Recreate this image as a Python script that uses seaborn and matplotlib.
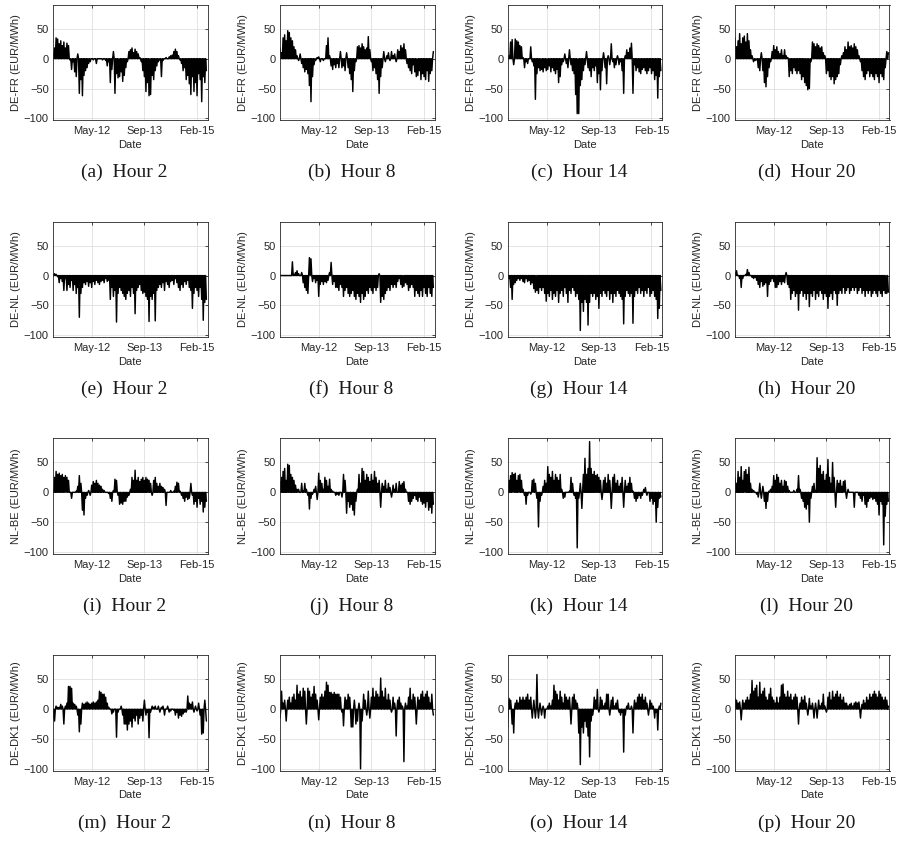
import numpy as np
import pandas as pd
import matplotlib
matplotlib.use("Agg")
import matplotlib.pyplot as plt
import matplotlib.dates as mdates
import seaborn as sns

sns.set_theme(style="whitegrid")
plt.rcParams["font.family"] = ["Liberation Sans", "DejaVu Sans"]

# Sampling dates of the price-spread series (one sample about every 15 days)
dates = pd.date_range("2011-04-22", "2015-05-04", periods=100)
x_start = pd.Timestamp("2011-04-22")
x_end = pd.Timestamp("2015-05-15")
tick_dates = pd.to_datetime(["2012-05-01", "2013-09-16", "2015-02-02"])
y_ticks = [-100, -50, 0, 50]

pairs = ["DE-FR", "DE-NL", "NL-BE", "DE-DK1"]
hours = ["Hour 2", "Hour 8", "Hour 14", "Hour 20"]
letters = list("abcdefghijklmnop")

# Price differences (EUR/MWh)
de_fr_h2 = [8, 18, 35, 33, 25, 30, 22, 28, 18, 26,
            22, -2, -18, -5, -22, -30, 8, -58, -35, -62,
            -28, -20, -15, -8, -5, 0, -2, 0, -8, 0,
            0, 0, -2, 0, -3, -12, -5, -40, -18, 12,
            -58, -25, -32, -30, -22, -38, -28, -15, -5, 12,
            15, 18, 10, 16, 12, 8, 2, -5, -20, -30,
            -55, -40, -62, -60, -28, -35, -20, -12, -5, -2,
            -30, -3, 0, 2, 0, 3, 5, 6, 12, 16,
            12, 5, -2, -8, -20, -15, -35, -28, -42, -60,
            -30, -55, -40, -62, -25, -35, -72, -30, -40, -20]
de_fr_h8 = [18, 10, 35, 40, 30, 47, 44, 35, 30, 20,
            15, 5, -3, 8, -8, -15, -22, -18, -25, -45,
            -72, -30, -10, -3, 2, 3, -5, 0, -3, 0,
            22, 35, 5, -12, -18, -10, -15, -8, -15, 12,
            -15, -12, -20, 10, -15, -25, -35, -55, -20, -5,
            20, 22, 18, 25, 20, 15, 18, 37, 15, -5,
            -20, -15, -25, -35, -58, -30, -15, 12, -5, 5,
            10, -3, 12, 5, 8, -5, 15, 12, 22, 18,
            25, 15, -8, -15, -20, -25, -10, -22, -30, -28,
            -20, -35, -25, -30, -35, -20, -38, -25, -20, 12]
de_fr_h14 = [0, 5, 28, 32, -10, 33, 30, 28, 22, 20,
             2, -15, -5, -8, 0, 20, -5, -12, -68, -25,
             -15, -20, -18, -22, -15, -20, -18, -12, -22, -15,
             -20, -25, -18, -40, -30, -10, -5, 8, -8, -15,
             15, -10, -20, -25, -60, -92, -92, -45, -35, -20,
             -10, 12, -15, -20, -30, -15, -20, -12, -40, -25,
             -52, -20, 10, -15, -42, 5, -10, 25, -5, -15,
             -10, 5, -10, -5, -20, -58, 5, 15, 10, 18,
             26, -58, -10, -20, -15, -22, -25, -18, -15, -20,
             -25, -20, -15, -25, -20, -35, -28, -66, -30, -20]
de_fr_h20 = [35, 20, 30, 42, 25, 35, 38, 28, 42, 30,
             15, 5, -5, -3, -2, -15, -20, 10, -20, -40,
             -47, -30, -15, -5, 12, 22, 15, 20, 12, 8,
             15, 5, 15, 5, 2, -30, -20, -25, -15, -20,
             -25, -20, -25, -35, -30, -40, -45, -52, -50, -5,
             28, 25, 20, 25, 22, 18, 20, 10, 5, -25,
             -20, -30, -35, -30, -42, -35, -30, -25, -10, 5,
             10, 20, 15, 28, 20, 22, 18, 25, 20, 15,
             5, -5, -20, -30, -35, -25, -20, -30, -25, -30,
             -35, -25, -30, -40, -25, -30, -35, -15, 12, 10]

de_nl_h2 = [0, 3, 2, -2, -12, -5, -10, -25, -5, -25,
            -15, -20, -8, -25, -15, -30, -20, -70, -30, -20,
            -12, -15, -10, -18, -12, -20, -10, -15, -8, -12,
            -15, -10, -8, -12, -5, -10, -8, -40, -20, -35,
            -25, -78, -30, -20, -25, -30, -35, -40, -30, -25,
            -35, -20, -30, -64, -25, -20, -15, -25, -30, -28,
            -35, -40, -77, -35, -40, -30, -76, -25, -20, -15,
            -20, -12, -25, -10, -15, -20, -10, -8, -15, -5,
            -12, -20, -25, -15, -20, -10, -15, -8, -20, -25,
            -55, -30, -20, -25, -35, -20, -40, -75, -45, -40]
de_nl_h8 = [0, 0, 0, 0, 0, 0, 0, 0, 23, 2,
            5, 8, 3, 0, 5, -12, -20, -25, -30, 30,
            28, -10, -5, -12, -8, -35, -15, -10, -15, -10,
            -12, -8, 5, 22, -15, -10, -20, -20, -25, -15,
            -20, -35, -25, -20, -30, -35, -30, -25, -35, -40,
            -30, -35, -45, -30, -40, -35, -25, -30, -20, -25,
            -30, -20, -25, -20, 3, -45, -35, -40, -30, -25,
            -20, -25, -15, -20, -15, -20, -10, -5, -15, -20,
            -18, -12, -15, -25, -20, -15, -20, -35, -25, -30,
            -35, -25, -35, -20, -30, -35, -20, -30, -35, -20]
de_nl_h14 = [0, -5, -20, -40, -15, -12, -8, -5, -8, -5,
             -10, -12, -5, -10, -8, -15, -12, -22, -28, -25,
             -30, -20, -25, -20, -30, -43, -30, -35, -25, -40,
             -30, -35, -25, -45, -30, -25, -35, -20, -30, -45,
             -25, -30, -20, -25, -35, -30, -40, -92, -45, -60,
             -40, -45, -83, -45, -30, -35, -30, -40, -35, -55,
             -30, -35, -25, -30, -35, -25, -40, -30, -45, -30,
             -35, -25, -30, -35, -40, -81, -35, -25, -30, -35,
             -30, -80, -35, -25, -30, -20, -30, -25, -35, -25,
             -30, -20, -35, -30, -25, -35, -40, -72, -55, -25]
de_nl_h20 = [5, 8, 0, -5, -20, -5, 0, 2, 10, 5,
             0, -3, -5, -3, -8, -15, -20, -10, -18, -15,
             -12, -35, -15, -10, -5, -10, -20, -20, -15, -10,
             -15, -10, -12, 5, -15, -20, -40, -30, -25, -35,
             -30, -58, -30, -25, -35, -30, -40, -30, -52, -30,
             -35, -25, -40, -30, -35, -25, -30, -40, -30, -35,
             -55, -35, -30, -40, -25, -30, -50, -30, -25, -30,
             -20, -30, -25, -20, -30, -25, -20, -25, -20, -30,
             -25, -20, -30, -25, -35, -25, -30, -25, -35, -30,
             -25, -30, -35, -25, -30, -35, -25, -30, -30, -28]

nl_be_h2 = [5, 25, 35, 30, 32, 28, 30, 25, 28, 25,
            20, 0, -10, 0, 0, 2, 10, 28, 15, -30,
            -38, -10, -5, 3, -5, 12, 18, 15, 20, 15,
            12, 10, 5, 3, 0, 0, -2, -10, -15, 3,
            22, 20, -5, -20, -18, -20, -15, -15, -8, -5,
            5, 25, 20, 37, 20, 25, 18, 22, 25, 20,
            25, 22, 20, 15, -5, 20, 25, 15, 10, 15,
            10, 8, 5, -22, 0, 0, 3, 0, 2, 10,
            17, 15, 2, -5, -10, -15, -8, -12, -10, 15,
            -5, -20, -15, -25, -10, -20, -15, -33, -25, -15]
nl_be_h8 = [18, 25, 35, 40, 20, 47, 45, 30, 25, 20,
            12, 5, 5, 0, 15, 2, 15, 5, -5, -28,
            -10, -3, 5, 10, -12, 32, 20, 15, 5, 25,
            20, 10, 22, 5, 2, 0, -5, -3, -5, 0,
            -8, 30, 20, -35, -15, -25, -20, -30, -38, -15,
            5, 30, 15, 40, 35, 20, 30, 25, 18, 30,
            20, 35, 25, 15, 20, -25, 15, 10, 20, 5,
            15, 8, -8, 12, 5, 15, 0, 18, 12, 15,
            18, 5, 0, -15, -20, -15, -10, -5, -12, -15,
            -8, -15, -20, -18, -25, -15, -30, -25, -35, -20]
nl_be_h14 = [2, 20, 28, 33, 30, 32, 20, 28, 30, 20,
             5, -5, -20, -5, 0, -3, 20, 22, 15, -10,
             -58, -15, -5, 10, 20, 15, 43, 30, 25, 35,
             20, 30, 25, 20, 30, 5, -10, -8, 0, 0,
             2, 25, 15, -5, -10, -93, -10, 15, -27, 30,
             57, 30, 40, 85, 40, 30, 35, 28, 30, 25,
             20, -12, 20, 25, 15, 30, 20, -27, 25, 30,
             15, 20, 10, 15, 25, -25, 20, 10, 15, 25,
             15, 2, -10, -15, -10, -5, -10, -5, 5, 8,
             -5, 0, -15, -10, -20, -15, -50, -25, -10, -8]
nl_be_h20 = [25, 15, 35, 25, 43, 20, 35, 38, 30, 42,
             15, 5, 3, 0, -3, -8, 15, -10, 10, -15,
             -27, -15, 2, 5, 10, 28, 20, 30, 25, 15,
             20, 10, 20, 18, 10, 3, 0, 0, 3, 0,
             5, 28, 5, -10, -15, -25, -28, -20, -50, -10,
             10, 15, 3, 58, 40, 45, 30, 35, 20, 30,
             55, 25, 15, 50, 25, -25, 20, 15, 20, 10,
             18, 20, -10, 5, 0, 0, 0, -25, 0, 0,
             -5, -10, -15, -5, -20, -25, -15, -10, -8, -12,
             -10, -15, -20, -38, -15, -20, -88, -40, -20, -15]

de_dk1_h2 = [-15, -20, 5, 3, 3, 8, 5, -25, 5, 10,
             38, 38, 35, 10, 8, 5, -10, -38, -25, 10,
             8, 10, 12, 10, 8, 10, 12, 10, 12, 15,
             30, 28, 25, 25, 20, 10, 3, 0, -8, -5,
             0, -47, -5, 0, 5, -10, -25, -25, -35, -25,
             -20, -30, -15, -20, -10, -25, -15, -10, -20, 15,
             -10, -5, -48, -5, 5, 3, 5, 0, 5, -5,
             3, 5, -10, 0, 5, -5, -3, 0, -2, -10,
             -5, -15, -10, -12, -8, -5, -5, 22, 10, 8,
             12, -5, 5, -3, 10, -10, -42, -40, 15, -20]
de_dk1_h8 = [-15, 30, 10, 15, -20, 15, 20, 10, 20, 25,
             15, 40, 25, 30, 20, 35, 30, -25, 35, 30,
             20, 25, 38, 25, 15, -18, 20, 25, 20, 30,
             45, 40, 28, 28, 25, 28, 25, 25, 25, 20,
             -5, -28, 20, 15, 25, 20, -30, -30, 15, -25,
             -20, 10, -100, -20, 25, 15, -10, 30, -15, 20,
             35, 20, 30, 25, 20, 52, 30, 20, 35, 15,
             25, 15, -5, 20, 10, -45, 15, 20, 10, 5,
             -88, 10, 5, 20, 35, 15, 25, 20, -25, 20,
             15, 25, 30, 20, 25, 30, 20, 10, 25, -10]
de_dk1_h14 = [-30, 18, 15, -25, -40, 10, 15, 10, 20, 15,
              20, 15, 20, 25, 15, 20, -15, 15, -15, 58,
              -15, 10, -10, 5, -15, 0, 5, 10, 5, 15,
              40, 30, 25, 15, 30, 20, 10, 25, 20, 15,
              20, -25, 20, 25, 15, 10, -40, -93, -30, -40,
              -20, -30, -45, -80, -20, -10, 20, 15, 33, -5,
              20, 15, 5, 10, 25, 25, -10, 15, 20, 5,
              10, 15, -5, -10, -5, -72, -10, 5, 10, 0,
              5, -40, 15, 10, 20, 25, 20, 25, 15, 20,
              10, -10, 15, 10, 5, -15, -5, -35, 5, 10]
de_dk1_h20 = [18, 15, 10, 12, -18, 15, 10, 15, 20, 15,
              25, 48, 30, 35, 40, 20, 45, 25, 30, 35,
              20, 15, 25, 35, 20, 15, 10, 20, 10, 20,
              40, 42, 25, 20, 30, 20, 25, 15, 20, 25,
              20, -25, 10, 20, 15, 22, 10, -10, 18, 5,
              10, -15, 10, -15, 15, 5, 10, 25, 5, -5,
              20, 28, 15, 30, 20, 25, 30, 20, 25, 15,
              20, 10, 10, 5, 8, 10, 5, 10, 12, 10,
              12, -15, 8, 15, 10, 20, 15, 25, 20, 25,
              30, 25, 20, 30, 25, 20, 15, 20, 15, 5]

series = [
    [de_fr_h2, de_fr_h8, de_fr_h14, de_fr_h20],
    [de_nl_h2, de_nl_h8, de_nl_h14, de_nl_h20],
    [nl_be_h2, nl_be_h8, nl_be_h14, nl_be_h20],
    [de_dk1_h2, de_dk1_h8, de_dk1_h14, de_dk1_h20],
]

W, H = 899, 842
fig = plt.figure(figsize=(W / 100, H / 100), dpi=100)

col_left = [53, 280, 507.5, 735]
ax_w, ax_h = 154.5, 115.5
row_top0, row_step = 4.7, 216.8
dark = "#262626"

# Between coupled-price days the spread sits at zero: put a zero sample
# halfway between consecutive samples so the series returns to the baseline.
half = (dates[1] - dates[0]) / 2
for r, pair in enumerate(pairs):
    for c, hour in enumerate(hours):
        vals = np.asarray(series[r][c], dtype=float)
        xs = np.empty(2 * len(dates) - 1, dtype="datetime64[ns]")
        ys = np.zeros(2 * len(dates) - 1)
        xs[0::2] = dates.values
        xs[1::2] = (dates[:-1] + half).values
        ys[0::2] = vals
        df = pd.DataFrame({"Date": xs, "Spread": ys})

        top = row_top0 + r * row_step
        left = col_left[c]
        ax = fig.add_axes([left / W, 1 - (top + ax_h) / H, ax_w / W, ax_h / H])
        sns.lineplot(data=df, x="Date", y="Spread", ax=ax, color="black",
                     linewidth=1.05, estimator=None, sort=False)

        ax.set_xlim(x_start, x_end)
        ax.set_ylim(-103, 90.5)
        ax.set_yticks(y_ticks)
        ax.set_xticks(tick_dates)
        ax.xaxis.set_major_formatter(mdates.DateFormatter("%b-%y"))
        ax.grid(True, color="#e0e0e0", linewidth=0.6)
        ax.set_axisbelow(True)
        for sp in ax.spines.values():
            sp.set_visible(True)
            sp.set_color(dark)
            sp.set_linewidth(0.6)
        ax.tick_params(direction="in", length=2.5, width=0.6, colors=dark,
                       labelsize=8, top=True, right=True,
                       labeltop=False, labelright=False)
        ax.tick_params(axis="x", pad=4.5)
        ax.tick_params(axis="y", pad=3)
        ax.set_xlabel("Date", fontsize=8, color=dark, labelpad=2.5)
        ax.set_ylabel(f"{pair} (EUR/MWh)", fontsize=8, color=dark, labelpad=2)

        idx = r * 4 + c
        fig.text((left + ax_w / 2 - 6) / W, 1 - (top + 168) / H,
                 f"({letters[idx]})  {hour}", ha="center", va="center",
                 fontsize=14, color="#1a1a1a",
                 family=["Liberation Serif", "DejaVu Serif"])

fig.savefig("out.png", dpi=100, facecolor="white")
